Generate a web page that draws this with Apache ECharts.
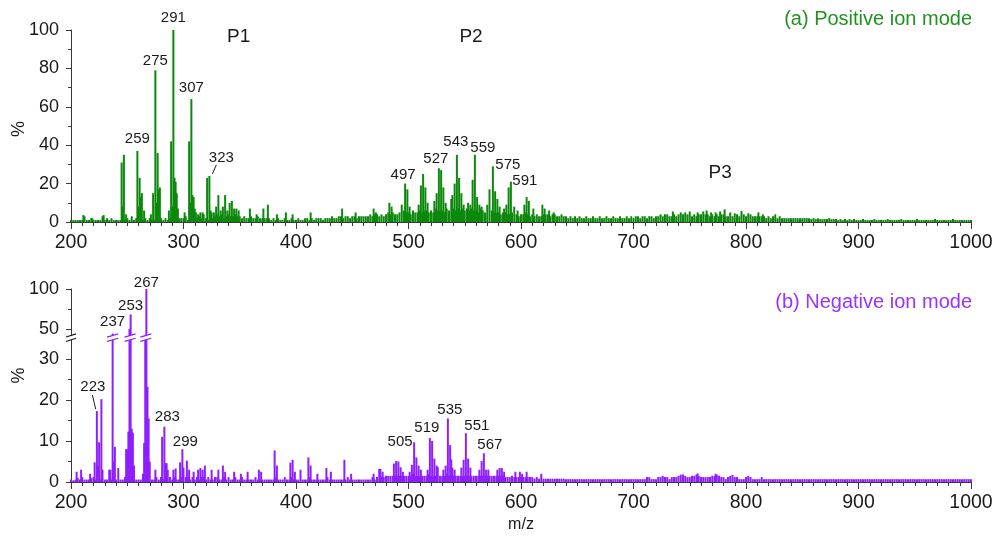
<!DOCTYPE html>
<html><head><meta charset="utf-8">
<script src="https://cdn.jsdelivr.net/npm/echarts@6/dist/echarts.min.js"></script>
<style>html,body{margin:0;padding:0;background:#fff}#c{width:996px;height:536px}</style>
</head><body><div id="c"></div>
<script>
// ---------- DATA ----------
const xTickValues = [200, 300, 400, 500, 600, 700, 800, 900, 1000];
const bgStartMz = 200, bgStepMz = 2;   // background sticks: m/z 200,202,...,1000

// (a) positive ion mode – background intensity (%), m/z 200..1000 step 2
const posBackground = [
  1,1,1,1,1, 1,3,1,1,2,   1,1,1,1,3, 1,2,1,2,1,
  1,1,1,1,1, 2,1,3,1,2,   2,2,1,2,1, 2,1,1,1,1,
  2,1,2,1,2, 1,1,1,2,2,   2,3,1,2,1, 3,2,3,2,4,
  2,1,3,2,3, 4,3,4,2,3,   4,3,3,4,3, 3,2,3,2,2,
  3,2,2,3,2, 2,2,2,2,1,   2,1,2,1,1, 2,1,1,2,1,
  1,2,1,1,2, 2,1,2,1,2,   2,2,1,2,2, 2,3,2,2,3,
  3,2,3,3,2, 3,3,2,3,3,   3,3,3,4,3, 4,4,3,4,3,
  4,5,4,5,4, 4,5,4,6,5,   5,4,6,5,5, 6,5,6,6,5,
  6,5,7,6,6, 6,5,7,6,6,   7,6,7,6,7, 6,7,6,7,6,
  6,5,7,6,5, 6,5,6,5,5,   5,4,5,5,4, 4,5,4,4,3,
  4,4,5,4,3, 4,3,4,3,3,   4,4,4,3,4, 4,3,3,4,3,
  3,2,3,2,3, 2,3,2,2,3,   2,2,3,2,2, 3,2,2,3,2,
  2,3,2,2,3, 2,2,3,2,3,   2,3,3,2,3, 3,2,3,3,2,
  3,3,4,3,3, 4,3,3,4,3,   4,3,4,3,4, 4,3,4,3,4,
  4,3,4,4,3, 4,3,4,3,4,   4,3,3,4,3, 3,4,3,3,4,
  3,3,4,3,3, 3,3,3,3,2,   3,2,3,3,2, 3,2,2,2,2,
  2,2,2,2,2, 2,2,2,2,1.5,   2,1.5,2,1.5,1.5, 1.5,1.5,2,1.5,1.5,
  1.5,1,1.5,1,1.5, 1,1.5,1,1.5,1,   1,1,1.5,1,1, 1,1,1.5,1,1,
  1,1,1,1.5,1, 1,1,1,1,1.5,   1,1,1,1,1, 1,1.5,1,1,1,
  1,1,1,1,1.5, 1,1,1,1,1,   1,1,1.5,1,1, 1,1,1,1,1,
  1
];
// (a) positive ion mode – individual peaks [m/z, %]
const posPeaks = [
  [211,3.6],[219,2],[229,3.6],[245,31],[246,8],[247,35],[249,4],
  [259,37],[260,8],[261,23],[262,13],[263,15],[265,6],[271,4],[273,15],
  [275,79],[276,10],[277,36],[278,17],[279,18],[287,6],[289,42],[290,8],
  [291,100],[292,23],[293,21],[294,15],[295,7],[301,5],[305,42],[306,10],
  [307,64],[308,14],[309,13],[310,7],[311,5],[313,4],[315,5],[317,5],
  [321,23],[323,24],[324,6],[325,5],[327,5],[329,8],[331,14],[333,6],
  [335,8],[337,14],[339,6],[341,10],[343,11],[345,7],[347,7],[349,6],
  [359,7],[365,4],[371,7],[375,9],[383,4],[391,5],[397,4],[413,5],
  [441,7],[453,5],[469,7],[471,5],[483,10],[485,8],[494,9],[497,20],
  [499,17],[501,8],[509,9],[511,19],[513,25],[515,18],[517,10],[523,11],
  [525,15],[527,28],[529,27],[531,18],[533,10],[538,12],[539,14],[541,20],
  [543,35],[545,23],[547,15],[549,9],[553,10],[555,9],[557,22],[559,35],
  [561,13],[563,9],[565,8],[570,9],[572,17],[575,29],[577,16],[579,12],
  [581,8],[585,7],[587,9],[589,18],[591,21],[594,8],[597,6],[603,9],
  [605,13],[607,11],[611,7],[619,9],[621,7],[625,6],[629,5],[724,4],
  [728,4],[735,5.5],[742,5],[746,5],[750,5.5],[757,5],[762,5.5],[765,6],
  [769,5],[773,5],[777,5.5],[781,6.6],[786,5],[790,4.5],[796,5.7],[802,4.5],
  [811,5],[815,4],[826,4]
];
const posLabelled = [259, 275, 291, 307, 323, 497, 527, 543, 559, 575, 591];

// (b) negative ion mode – background intensity (%), m/z 200..1000 step 2
const negBackground = [
  0.6,0.4,0.6,1,0.6, 1.2,0.6,0.6,0.6,1,   1.2,0.6,0.6,0.6,0.6, 0.6,0.6,1.2,0.6,0.6,
  0.6,0.6,0.6,0.6,1.2, 0.6,0.6,0.6,0.6,0.6,   0.6,0.6,0.6,0.6,0.6, 0.6,0.6,0.6,1.2,0.6,
  1.2,0.6,0.6,0.6,1.2, 0.6,1.2,0.6,0.6,1.2,   0.6,1.2,1.2,0.6,1.2, 0.6,1.2,0.6,1.2,1.2,
  0.6,1.2,0.6,0.6,1.2, 1.2,0.6,0.6,1.2,0.6,   1.2,0.6,0.6,1.2,0.6, 0.6,1.2,0.6,0.6,0.6,
  0.6,0.6,1.2,0.6,0.6, 0.6,0.6,0.6,0.6,0.6,   0.6,1.2,0.6,0.6,0.6, 1.2,0.6,0.6,1.2,0.6,
  0.6,0.6,1.2,0.6,0.6, 0.6,1.2,0.6,0.6,0.6,   0.6,0.6,0.6,0.6,1.2, 0.6,0.6,0.6,0.6,0.6,
  0.6,0.6,0.6,1.2,0.6, 0.6,0.6,0.6,0.6,0.6,   0.6,0.6,0.6,0.6,1.2, 0.6,1.2,1.2,1.2,1.2,
  1.5,1.5,1.5,1.5,1.5, 1.5,1.5,1.5,1.5,1.5,   1.5,1.5,2,1.5,1.5, 1.5,1.5,1.5,1.5,2,
  1.5,1.5,1.5,1.5,1.5, 1.5,1.5,2,1.5,1.5,   1.5,1.5,1.5,1.5,1.5, 1.5,1.5,1.5,1.5,1.5,
  1.5,1.5,1.5,1.5,1.5, 1.5,1.5,1.5,1.5,1.5,   1.5,1.5,1.5,1.2,1.2, 1.2,1.5,1.2,1.2,1.2,
  1.2,1.2,1.2,1.2,1.2, 1.2,0.8,1.2,0.8,1.2,   0.8,0.8,0.8,0.8,0.8, 0.8,0.8,0.8,0.8,0.8,
  0.7,0.7,0.7,0.7,0.7, 0.7,0.7,0.7,0.7,0.7,   0.7,0.7,0.7,0.7,0.7, 0.7,0.7,0.7,0.7,0.7,
  0.7,0.7,0.7,0.7,0.7, 0.7,0.7,0.7,0.7,0.7,   0.7,0.7,0.7,0.7,0.7, 0.7,1.2,1.2,0.7,0.7,
  0.7,1.2,1.2,1.5,1.2, 1.2,0.7,1.2,1.2,1.2,   1.5,1.5,1.8,1.5,1.2, 1.2,1.5,1.5,1.8,1.5,
  1.2,1.2,1.2,1.2,1.2, 1.5,1.5,1.8,1.5,1.2,   1.2,0.7,1.2,1.5,1.5, 1.2,1.2,0.7,0.7,0.7,
  1.2,1.5,1.2,0.7,0.7, 0.7,0.7,1.2,0.7,0.7,   0.7,0.7,0.7,0.7,0.7, 0.7,0.7,0.7,0.7,0.7,
  0.7,0.7,0.7,0.7,0.7, 0.7,0.7,0.7,0.7,0.7,   0.7,0.7,0.7,0.7,0.7, 0.7,0.7,0.7,0.7,0.7,
  0.7,0.7,0.7,0.7,0.7, 0.7,0.7,0.7,0.7,0.7,   0.7,0.7,0.7,0.7,0.7, 0.7,0.7,0.7,0.7,0.7,
  0.7,0.7,0.7,0.7,0.7, 0.7,0.7,0.7,0.7,0.7,   0.7,0.7,0.7,0.7,0.7, 0.7,0.7,0.7,0.7,0.7,
  0.7,0.7,0.7,0.7,0.7, 0.7,0.7,0.7,0.7,0.7,   0.7,0.7,0.7,0.7,0.7, 0.7,0.7,0.7,0.7,0.7,
  0.7
];
// (b) negative ion mode – individual peaks [m/z, %]
const negPeaks = [
  [205,2.5],[209,3],[217,2],[221,4.8],[223,17.3],[224,4],[225,9.7],[227,20.2],
  [228,3],[234,3],[235,3],[237,44],[238,5],[239,8.6],[242,3.4],[249,8],
  [250,8],[251,12.3],[252,50],[253,68],[254,13],[255,12],[256,4],[264,2],
  [265,9.5],[266,42],[267,100],[268,23.2],[269,15.5],[270,5],[275,3],[281,11],
  [283,13.5],[284,4.6],[285,4.6],[286,3],[291,3],[293,3.3],[297,4.8],[299,8],
  [300,3.5],[303,5.2],[305,3],[309,2.5],[313,3],[315,3.4],[317,3],[319,4],
  [325,3],[331,3],[335,4],[337,2.5],[345,2.5],[351,2],[357,2.5],[367,3],
  [369,2.5],[381,7.7],[383,4],[395,4.7],[397,5.4],[399,2.5],[404,3],[411,6],
  [413,4],[419,2],[427,3.4],[431,2.5],[443,5.4],[449,2],[469,2],[474,3.2],
  [475,3.2],[477,2.5],[487,4.5],[489,5.1],[491,5],[493,3.6],[495,2.5],[501,2.5],
  [503,4.2],[505,9.7],[507,6],[509,4],[511,3],[517,3],[519,10.7],[521,10],
  [523,5.7],[525,4],[526,3.6],[531,3],[533,4],[535,15.5],[537,9],[538,5.5],
  [539,3.5],[541,3],[547,3.5],[549,5.4],[551,11.9],[553,5.7],[555,3.5],[563,3],
  [565,5.1],[567,7],[569,3],[571,3],[579,3],[581,3.4],[583,3.4],[585,2.5],
  [595,2.5],[599,2.5],[601,2],[605,2.5],[618,2],[742,1.8],[757,2.1],[773,2],[788,1.7]
];
const negLabelled = [223, 237, 253, 267, 283, 299, 505, 519, 535, 551, 567];

// broken y axis of panel (b)
const negLowerMax = 35, negUpperMin = 40;
const negLowerTicks = [0, 10, 20, 30], negLowerMinor = [5, 15, 25];
const negUpperTicks = [50, 100], negUpperMinor = [75];
const breakBars = [237, 252.5, 266.5];

// annotations [text, m/z, %]
const regionLabels = [['P1', 349, 96.4], ['P2', 555.6, 96.4], ['P3', 777, 25.5]];

// ---------- STYLE ----------
const FONT = '"Liberation Sans", Arial, sans-serif';
const GREEN = '#0c880c', GREEN_T = '#1f921f', PURPLE = '#8f1fff', PURPLE_T = '#9a33ff';
const AXIS = '#3a3a3a', TEXT = '#1a1a1a';
const labelOffsets = {
  259:[0,-1], 275:[0,2], 291:[0,-1], 307:[0,0], 323:[12,-7], 497:[-2,3], 527:[-3,2],
  543:[-1,-1], 559:[8,5], 575:[15,10], 591:[14,11],
  223:[-4,-13], 237:[0,0], 253:[0,3], 267:[0,5], 283:[3,2], 299:[3,4],
  505:[-14,11], 519:[-3,1], 535:[2,3], 551:[11,4], 567:[6,3]
};

function merge(bg, peaks) {
  const m = new Map();
  bg.forEach((v, i) => m.set(bgStartMz + bgStepMz * i, v));
  peaks.forEach(([x, v]) => m.set(x, v));
  return [...m.entries()].sort((a, b) => a[0] - b[0]);
}
function toItems(pairs, labelled, maxShown) {
  return pairs.map(([x, v]) => (labelled.includes(x) && v <= maxShown)
    ? { value: [x, v], label: { show: true, formatter: String(x), offset: labelOffsets[x] || [0, 0] } }
    : [x, v]);
}
const posAll = merge(posBackground, posPeaks);
const negAll = merge(negBackground, negPeaks);
const negUpper = negAll.filter(([x, v]) => v > negUpperMin);

const tickLabelY = { fontSize: 18, color: TEXT, fontFamily: FONT };
const tickLabelX = { fontSize: 19.5, color: TEXT, fontFamily: FONT, formatter: v => String(v) };
function xAxis(gridIndex, show, extra) {
  return Object.assign({
    type: 'value', gridIndex, show, min: 200, max: 1000, interval: 100,
    axisLine: { show: true, lineStyle: { color: AXIS, width: 1 } },
    axisTick: { show: true, length: 7, lineStyle: { color: AXIS } },
    minorTick: { show: true, splitNumber: 10, length: 4, lineStyle: { color: AXIS } },
    axisLabel: Object.assign({ margin: 11 }, tickLabelX),
    splitLine: { show: false }, minorSplitLine: { show: false }
  }, extra || {});
}
function yBase(gridIndex, extra) {
  return Object.assign({
    type: 'value', gridIndex, position: 'left', offset: 0,
    axisLine: { show: true, lineStyle: { color: AXIS, width: 1 } },
    axisTick: { show: true, length: 5, lineStyle: { color: AXIS } },
    axisLabel: Object.assign({ margin: 12 }, tickLabelY),
    splitLine: { show: false }
  }, extra);
}
const barLabel = { position: 'top', distance: 4, fontSize: 15, color: TEXT, fontFamily: FONT };

const chart = echarts.init(document.getElementById('c'));
chart.setOption({
  animation: false,
  backgroundColor: '#fff',
  textStyle: { fontFamily: FONT },
  title: [
    { text: '(a) Positive ion mode', right: 24, top: 9, padding: 0,
      textStyle: { color: GREEN_T, fontSize: 20, fontWeight: 'normal', fontFamily: FONT } },
    { text: '(b) Negative ion mode', right: 24, top: 292, padding: 0,
      textStyle: { color: PURPLE_T, fontSize: 20, fontWeight: 'normal', fontFamily: FONT } }
  ],
  grid: [
    { left: 71, top: 30, width: 900, height: 192, outerBoundsMode: 'none', containLabel: false },
    { left: 71, top: 338.5, width: 900, height: 143.5, outerBoundsMode: 'none', containLabel: false },
    { left: 71, top: 289, width: 900, height: 47.8, outerBoundsMode: 'none', containLabel: false }
  ],
  xAxis: [
    xAxis(0, true),
    xAxis(1, true, { name: 'm/z', nameLocation: 'middle', nameGap: 35,
      nameTextStyle: { fontSize: 16, color: TEXT, fontFamily: FONT } }),
    xAxis(2, false)
  ],
  yAxis: [
    yBase(0, { min: 0, max: 100, interval: 20,
      minorTick: { show: true, splitNumber: 2, length: 3, lineStyle: { color: AXIS } } }),
    yBase(1, { min: 0, max: negLowerMax,
      axisTick: { show: true, length: 5, customValues: negLowerTicks, lineStyle: { color: AXIS } },
      axisLabel: Object.assign({ margin: 12, customValues: negLowerTicks }, tickLabelY) }),
    yBase(2, { min: negUpperMin, max: 100,
      axisTick: { show: true, length: 5, customValues: negUpperTicks, lineStyle: { color: AXIS } },
      axisLabel: Object.assign({ margin: 12, customValues: negUpperTicks }, tickLabelY) }),
    yBase(1, { min: 0, max: negLowerMax, axisLine: { show: false },
      axisTick: { show: true, length: 3, customValues: negLowerMinor, lineStyle: { color: AXIS } },
      axisLabel: { show: false } }),
    yBase(2, { min: negUpperMin, max: 100, axisLine: { show: false },
      axisTick: { show: true, length: 3, customValues: negUpperMinor, lineStyle: { color: AXIS } },
      axisLabel: { show: false } })
  ],
  series: [
    { type: 'bar', xAxisIndex: 0, yAxisIndex: 0, barWidth: 2, itemStyle: { color: GREEN },
      label: barLabel, data: toItems(posAll, posLabelled, 100), clip: true },
    { type: 'bar', xAxisIndex: 1, yAxisIndex: 1, barWidth: 2, itemStyle: { color: PURPLE },
      label: barLabel, data: toItems(negAll, negLabelled, negLowerMax), clip: true },
    { type: 'bar', xAxisIndex: 2, yAxisIndex: 2, barWidth: 2, itemStyle: { color: PURPLE },
      label: barLabel, data: toItems(negUpper, negLabelled, 100), clip: true }
  ]
});

// ---------- ANNOTATIONS (placed through the chart's own scales) ----------
const g = [];
const px = (grid, x, y) => chart.convertToPixel({ gridIndex: grid }, [x, y]);
regionLabels.forEach(([t, x, y]) => {
  const p = px(0, x, y);
  g.push({ type: 'text', x: p[0], y: p[1], style: { text: t, fill: TEXT, font: '19px ' + FONT, align: 'center', verticalAlign: 'middle' } });
});
// leader lines for offset labels
const lead = (grid, x, y, a, b, c, d) => {
  const p = px(grid, x, y);
  g.push({ type: 'line', shape: { x1: p[0] + a, y1: p[1] + b, x2: p[0] + c, y2: p[1] + d }, style: { stroke: TEXT, lineWidth: 1 } });
};
const p323 = posAll.find(e => e[0] === 323);
lead(0, 323, p323[1], 7, -11, 3, -2);
const n223 = negAll.find(e => e[0] === 223);
lead(1, 223, n223[1], -4.5, -16, -1.2, -2);
// "%" axis names
const topMid = px(0, 200, 50), lowMid = px(1, 200, 26);
[[topMid[1] + 3], [lowMid[1]]].forEach(([yy]) => {
  g.push({ type: 'text', x: 19, y: yy, rotation: Math.PI / 2,
    style: { text: '%', font: '18px ' + FONT, fill: TEXT, align: 'center', verticalAlign: 'middle' } });
});
// axis break marks
const yU = px(2, 200, negUpperMin)[1], yL = px(1, 200, negLowerMax)[1];
const yc = (yU + yL) / 2;
function breakMark(cx, halfW, color) {
  const s = 1.6, gap = 2.2;
  g.push({ type: 'polygon', shape: { points: [[cx - halfW, yc + s + gap], [cx + halfW, yc - s + gap], [cx + halfW, yc - s - gap], [cx - halfW, yc + s - gap]] },
    style: { fill: '#fff' }, z: 10 });
  g.push({ type: 'line', shape: { x1: cx - halfW, y1: yc + s + gap, x2: cx + halfW, y2: yc - s + gap }, style: { stroke: color, lineWidth: 1.2 }, z: 11 });
  g.push({ type: 'line', shape: { x1: cx - halfW, y1: yc + s - gap, x2: cx + halfW, y2: yc - s - gap }, style: { stroke: color, lineWidth: 1.2 }, z: 11 });
}
breakMark(px(1, 200, 0)[0], 5, TEXT);
breakBars.forEach(m => breakMark(px(1, m, 0)[0], 5.5, PURPLE));
chart.setOption({ graphic: g });
</script>
</body></html>
